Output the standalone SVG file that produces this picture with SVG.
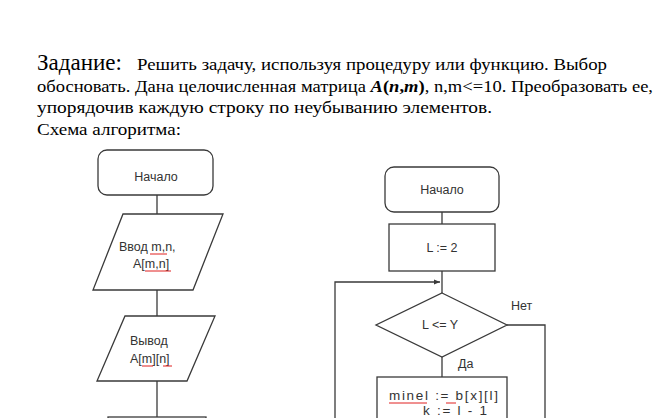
<svg xmlns="http://www.w3.org/2000/svg" width="656" height="418" viewBox="0 0 656 418">
<defs>
<style>
.t{font-family:"Liberation Serif","Times New Roman",serif;fill:#000}
.f{font-family:"Liberation Sans",Arial,sans-serif;font-size:12.5px;fill:#333}
.b{font-size:13.5px}
.s{fill:#fff;stroke:#3a3a3a;stroke-width:1.3}
.c{fill:none;stroke:#3a3a3a;stroke-width:1.3}
.sq{fill:none;stroke:#e02020;stroke-width:1}
</style>
<marker id="ah" viewBox="0 0 10 10" refX="10" refY="5" markerWidth="6" markerHeight="6" orient="auto" markerUnits="userSpaceOnUse">
<path d="M0,1 L10,5 L0,9 z" fill="#3a3a3a"/>
</marker>
</defs>
<rect width="656" height="418" fill="#fff"/>
<g id="header">
<text class="t" x="37" y="70" font-size="23" textLength="85" lengthAdjust="spacingAndGlyphs">Задание:</text>
<text class="t" x="137" y="70" font-size="17" textLength="470" lengthAdjust="spacingAndGlyphs">Решить задачу, используя процедуру или функцию. Выбор</text>
<text class="t" x="37" y="92" font-size="17" textLength="616" lengthAdjust="spacingAndGlyphs">обосновать. Дана целочисленная матрица <tspan font-weight="bold" font-style="italic">A</tspan><tspan font-weight="bold">(</tspan><tspan font-weight="bold" font-style="italic">n</tspan><tspan font-weight="bold">,</tspan><tspan font-weight="bold" font-style="italic">m</tspan><tspan font-weight="bold">)</tspan>, n,m&lt;=10. Преобразовать ее,</text>
<text class="t" x="37" y="113" font-size="17" textLength="455" lengthAdjust="spacingAndGlyphs">упорядочив каждую строку по неубыванию элементов.</text>
<text class="t" x="37" y="135" font-size="17" textLength="144" lengthAdjust="spacingAndGlyphs">Схема алгоритма:</text>
</g>
<g id="connectors">
<line class="c" x1="157" y1="195" x2="157" y2="214"/>
<line class="c" x1="157" y1="290" x2="157" y2="316"/>
<line class="c" x1="157" y1="381" x2="157" y2="418"/>
<line class="c" x1="442" y1="212" x2="442" y2="224"/>
<line class="c" x1="442" y1="271" x2="442" y2="293"/>
<polyline class="c" points="335,418 335,282 440,282" marker-end="url(#ah)"/>
<polyline class="c" points="507,325 545,325 545,418"/>
<line class="c" x1="442" y1="357" x2="442" y2="377"/>
</g>
<g id="start1">
<rect class="s" x="98" y="150" width="115" height="45" rx="9"/>
<text class="f" x="156" y="181" text-anchor="middle">Начало</text>
</g>
<g id="input1">
<polygon class="s" points="123,214 223,214 193,290 93,290"/>
<text class="f" x="119" y="251">Ввод m,n,</text>
<text class="f" x="133" y="268">A[m,n]</text>
<path class="sq" d="M150,254 L167,254 M145,271 L171,271"/>
</g>
<g id="output1">
<polygon class="s" points="125,316 215,316 187,381 97,381"/>
<text class="f" x="130" y="345">Вывод</text>
<text class="f" x="130" y="363">A[m][n]</text>
<path class="sq" d="M142,366 L153,366 M163,366 L172,366"/>
</g>
<g id="next1">
<rect class="s" x="108" y="417" width="98" height="10"/>
</g>
<g id="start2">
<rect class="s" x="385" y="167" width="114" height="45" rx="9"/>
<text class="f" x="442" y="194" text-anchor="middle">Начало</text>
</g>
<g id="assign">
<rect class="s" x="389" y="224" width="106" height="47"/>
<text class="f" x="442" y="252" text-anchor="middle">L := 2</text>
</g>
<g id="cond">
<polygon class="s" points="442,293 507,325 442,357 376,325"/>
<text class="f" x="440" y="329" text-anchor="middle">L &lt;= Y</text>
<text class="f" x="511" y="310">Нет</text>
<text class="f" x="458" y="368">Да</text>
</g>
<g id="body">
<rect class="s" x="377" y="377" width="130" height="50"/>
<text class="f b" x="389" y="400" textLength="109" lengthAdjust="spacing">minel := b[x][l]</text>
<text class="f b" x="423" y="415" textLength="64" lengthAdjust="spacing">k := l - 1</text>
<path class="sq" d="M389,403 L427,403 M446,403 L456,403"/>
</g>
</svg>
